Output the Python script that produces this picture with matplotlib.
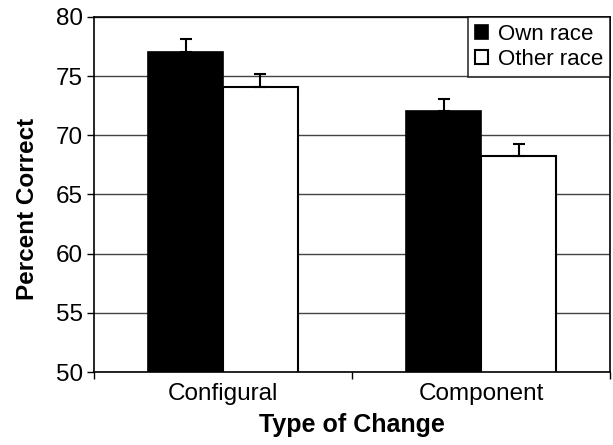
import matplotlib
matplotlib.use("Agg")
import matplotlib.pyplot as plt
import numpy as np

plt.rcParams["font.family"] = ["Liberation Sans", "DejaVu Sans"]

categories = ["Configural", "Component"]
series = ["Own race", "Other race"]
own_race = [77.0, 72.05]
other_race = [74.05, 68.25]
own_err = [1.1, 1.05]
other_err = [1.15, 1.0]

fig = plt.figure(figsize=(6.13, 4.45), dpi=100)
ax = fig.add_axes([0.1533, 0.164, 0.842, 0.798])

x = np.arange(len(categories))
w = 0.29

ax.set_axisbelow(True)
ax.yaxis.grid(True, color="#444444", linewidth=1.0)

err_kw = dict(ecolor="black", elinewidth=1.5, capsize=4.5, capthick=1.5)
ax.bar(x - w / 2, own_race, w, color="black", edgecolor="black", linewidth=1.2,
       yerr=[np.zeros(len(own_err)), own_err], error_kw=err_kw, label=series[0])
ax.bar(x + w / 2, other_race, w, color="white", edgecolor="black", linewidth=1.5,
       yerr=[np.zeros(len(other_err)), other_err], error_kw=err_kw, label=series[1])

ax.set_ylim(50, 80)
ax.set_yticks(np.arange(50, 81, 5))
ax.set_xlim(-0.5, len(categories) - 0.5)
ax.set_xticks(np.arange(-0.5, len(categories), 1.0))
ax.set_xticklabels([])
ax.set_xticks(x, minor=True)
ax.set_xticklabels(categories, minor=True)
ax.tick_params(axis="x", which="minor", length=0, labelsize=17.5, pad=8)
ax.tick_params(axis="x", which="major", length=5, width=1.0, direction="out")
ax.tick_params(axis="y", length=5, width=1.0, direction="out", labelsize=17.5, pad=3)

for s in ax.spines.values():
    s.set_linewidth(1.2)
    s.set_color("black")

ax.set_xlabel("Type of Change", fontsize=18, fontweight="bold", labelpad=6)
ax.set_ylabel("Percent Correct", fontsize=17.5, fontweight="bold")
ax.yaxis.set_label_coords(-0.106, 0.46)

leg = ax.legend(loc="upper right", fontsize=16, frameon=True, fancybox=False,
                borderaxespad=0, handlelength=0.6, handleheight=0.6,
                handletextpad=0.45, borderpad=0.3, labelspacing=0.2)
leg.get_frame().set_edgecolor("black")
leg.get_frame().set_linewidth(1.2)

plt.savefig("out.png", dpi=100)
